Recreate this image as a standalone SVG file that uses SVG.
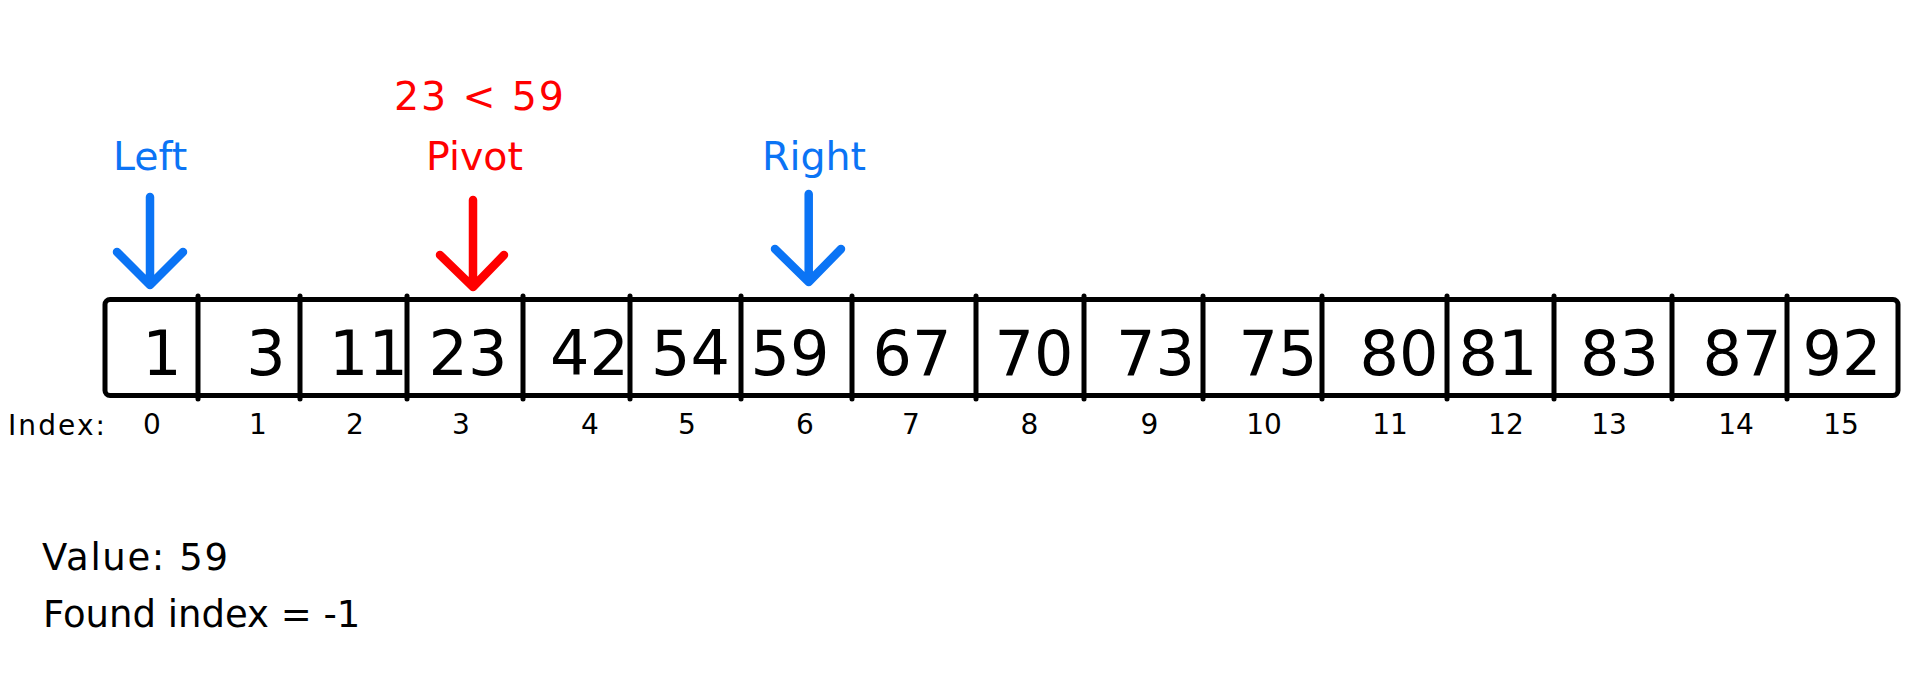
<svg xmlns="http://www.w3.org/2000/svg" width="1920" height="700" viewBox="0 0 1920 700">
<style>
  text { font-family: "DejaVu Sans", Verdana, sans-serif; }
  .cell { font-size: 62px; fill: #000; text-anchor: middle; }
  .idx { font-size: 28px; fill: #000; text-anchor: middle; }
  .info { font-size: 37px; fill: #000; }
  .lblb { font-size: 39.5px; fill: #0b74f5; }
  .lblr { font-size: 39.5px; fill: #ff0000; }
  .div { stroke: #000; stroke-width: 5; stroke-linecap: round; }
  .arrb { stroke: #0b74f5; stroke-width: 8.5; stroke-linecap: round; stroke-linejoin: round; fill: none; }
  .arrr { stroke: #ff0000; stroke-width: 8.5; stroke-linecap: round; stroke-linejoin: round; fill: none; }
</style>
<rect width="1920" height="700" fill="#fff"/>

<g id="array-outline">
  <rect x="105" y="299.5" width="1793" height="96" rx="5" fill="none" stroke="#000" stroke-width="5"/>
  <line class="div" x1="198" y1="296" x2="198" y2="399"/>
  <line class="div" x1="300" y1="296" x2="300" y2="399"/>
  <line class="div" x1="407" y1="296" x2="407" y2="399"/>
  <line class="div" x1="523" y1="296" x2="523" y2="399"/>
  <line class="div" x1="630" y1="296" x2="630" y2="399"/>
  <line class="div" x1="741" y1="296" x2="741" y2="399"/>
  <line class="div" x1="852" y1="296" x2="852" y2="399"/>
  <line class="div" x1="976" y1="296" x2="976" y2="399"/>
  <line class="div" x1="1084" y1="296" x2="1084" y2="399"/>
  <line class="div" x1="1203" y1="296" x2="1203" y2="399"/>
  <line class="div" x1="1322" y1="296" x2="1322" y2="399"/>
  <line class="div" x1="1447" y1="296" x2="1447" y2="399"/>
  <line class="div" x1="1554" y1="296" x2="1554" y2="399"/>
  <line class="div" x1="1672" y1="296" x2="1672" y2="399"/>
  <line class="div" x1="1787" y1="296" x2="1787" y2="399"/>
</g>

<g id="cell-0"><text class="cell" x="162" y="375">1</text><text class="idx" x="152" y="434">0</text></g>
<g id="cell-1"><text class="cell" x="266" y="375">3</text><text class="idx" x="258" y="434">1</text></g>
<g id="cell-2"><text class="cell" x="368.5" y="375">11</text><text class="idx" x="355" y="434">2</text></g>
<g id="cell-3"><text class="cell" x="468" y="375">23</text><text class="idx" x="461" y="434">3</text></g>
<g id="cell-4"><text class="cell" x="589.5" y="375">42</text><text class="idx" x="590" y="434">4</text></g>
<g id="cell-5"><text class="cell" x="690.5" y="375">54</text><text class="idx" x="687" y="434">5</text></g>
<g id="cell-6"><text class="cell" x="790" y="375">59</text><text class="idx" x="805" y="434">6</text></g>
<g id="cell-7"><text class="cell" x="912" y="375">67</text><text class="idx" x="911" y="434">7</text></g>
<g id="cell-8"><text class="cell" x="1034" y="375">70</text><text class="idx" x="1029.5" y="434">8</text></g>
<g id="cell-9"><text class="cell" x="1155.5" y="375">73</text><text class="idx" x="1149.5" y="434">9</text></g>
<g id="cell-10"><text class="cell" x="1278" y="375">75</text><text class="idx" x="1264" y="434">10</text></g>
<g id="cell-11"><text class="cell" x="1399" y="375">80</text><text class="idx" x="1390" y="434">11</text></g>
<g id="cell-12"><text class="cell" x="1498" y="375">81</text><text class="idx" x="1506" y="434">12</text></g>
<g id="cell-13"><text class="cell" x="1619.5" y="375">83</text><text class="idx" x="1609" y="434">13</text></g>
<g id="cell-14"><text class="cell" x="1742" y="375">87</text><text class="idx" x="1736" y="434">14</text></g>
<g id="cell-15"><text class="cell" x="1842" y="375">92</text><text class="idx" x="1841" y="434">15</text></g>

<g id="index-label"><text x="8" y="435" font-size="28" textLength="97" lengthAdjust="spacing">Index:</text></g>

<g id="label-left"><text class="lblb" x="113" y="170">Left</text></g>
<g id="label-pivot"><text class="lblr" x="426" y="170">Pivot</text></g>
<g id="label-right"><text class="lblb" x="762" y="170">Right</text></g>
<g id="label-compare"><text class="lblr" x="394" y="110" font-size="49" textLength="170" lengthAdjust="spacing">23 &lt; 59</text></g>

<g id="info">
  <text class="info" x="42" y="570" textLength="186" lengthAdjust="spacing">Value: 59</text>
  <text class="info" x="43" y="627">Found index = -1</text>
</g>

<g id="connectors">
  <path class="arrb" d="M150 197 V285 M117 252 L150 285 L183 252"/>
  <path class="arrr" d="M473 200 V287 M440 255 L473 287 L504 255"/>
  <path class="arrb" d="M808.7 194 V282 M775 249 L808.7 282 L841 249"/>
</g>
</svg>
